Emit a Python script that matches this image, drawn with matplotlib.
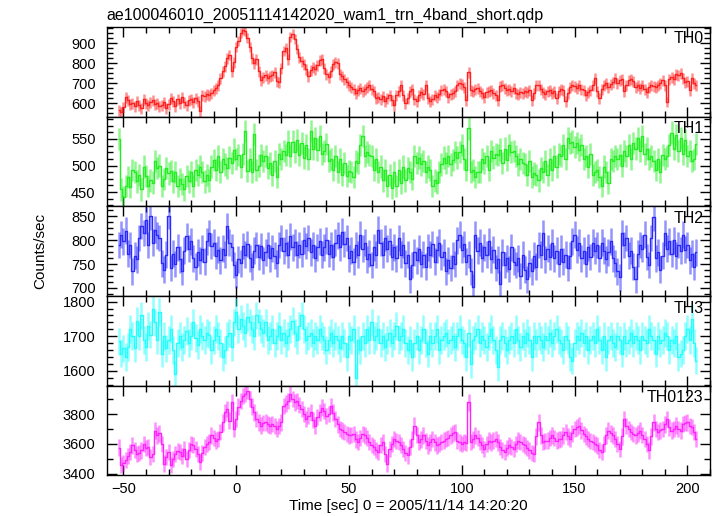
import numpy as np
import matplotlib
matplotlib.use("Agg")
import matplotlib.pyplot as plt
from matplotlib.ticker import MultipleLocator

plt.rcParams['font.family'] = ['Liberation Sans', 'DejaVu Sans']

# bin centres [sec], 1 s bins
t_bins = np.arange(-52, 205)

th0 = [
    565, 555, 580, 630, 615, 595, 600, 585, 610, 590,
    575, 620, 600, 590, 605, 615, 595, 600, 585, 590,
    605, 575, 595, 625, 610, 585, 620, 600, 630, 605,
    590, 615, 620, 605, 625, 610, 560, 640, 635, 645,
    640, 650, 665, 675, 690, 725, 760, 785, 825, 840,
    760, 805, 880, 910, 950, 965, 960, 925, 880, 825,
    800, 820, 760, 715, 730, 740, 725, 735, 740, 755,
    710, 705, 775, 860, 875, 820, 930, 945, 920, 870,
    830, 810, 795, 770, 735, 765, 780, 770, 790, 815,
    820, 775, 745, 730, 760, 795, 805, 800, 745, 735,
    720, 705, 690, 680, 670, 650, 665, 675, 660, 670,
    680, 690, 670, 660, 625, 630, 620, 635, 610, 625,
    640, 615, 590, 640, 660, 690, 640, 600, 625, 660,
    670, 620, 610, 640, 655, 645, 690, 625, 610, 620,
    640, 630, 645, 665, 670, 660, 630, 645, 650, 660,
    690, 700, 695, 680, 615, 755, 665, 660, 670, 675,
    660, 650, 630, 655, 660, 665, 650, 640, 615, 685,
    690, 675, 665, 670, 660, 675, 650, 645, 655, 650,
    660, 655, 665, 615, 650, 690, 690, 670, 655, 645,
    660, 665, 650, 660, 625, 660, 670, 665, 610, 650,
    680, 690, 685, 675, 690, 670, 665, 640, 655, 665,
    690, 725, 660, 625, 670, 690, 700, 680, 695, 705,
    725, 700, 715, 720, 660, 690, 715, 720, 710, 680,
    690, 675, 690, 670, 655, 680, 690, 685, 680, 690,
    700, 715, 690, 608, 720, 730, 720, 745, 740, 750,
    725, 705, 710, 665, 725, 700, 690,
]

th1 = [
    550, 455, 440, 462, 478, 460, 492, 488, 470, 482,
    455, 498, 480, 462, 472, 468, 508, 495, 500, 462,
    475, 495, 485, 490, 470, 488, 462, 475, 465, 455,
    480, 470, 488, 462, 492, 482, 498, 488, 470, 482,
    472, 498, 510, 492, 518, 488, 512, 502, 495, 515,
    505, 530, 512, 520, 498, 522, 565, 490, 512, 488,
    560, 492, 500, 520, 508, 518, 496, 505, 482, 508,
    478, 522, 512, 528, 520, 545, 518, 545, 525, 548,
    520, 542, 515, 538, 512, 565, 532, 552, 530, 555,
    522, 528, 540, 508, 512, 492, 518, 488, 512, 482,
    505, 480, 490, 488, 478, 508, 505, 538, 556, 518,
    525, 520, 518, 492, 512, 488, 498, 472, 492, 462,
    482, 458, 488, 462, 492, 468, 498, 472, 495, 488,
    475, 518, 505, 515, 502, 508, 488, 498, 492, 462,
    472, 468, 488, 502, 515, 505, 518, 502, 510, 525,
    515, 525, 538, 512, 492, 570, 488, 492, 478, 488,
    488, 512, 505, 518, 492, 528, 515, 522, 520, 530,
    505, 532, 510, 538, 525, 528, 518, 502, 512, 505,
    502, 482, 508, 478, 485, 482, 472, 495, 488, 508,
    482, 512, 492, 518, 498, 522, 518, 538, 512, 552,
    542, 545, 535, 542, 530, 538, 512, 518, 498, 522,
    482, 488, 492, 478, 462, 498, 488, 468, 512, 508,
    518, 512, 520, 500, 528, 518, 538, 512, 542, 532,
    552, 528, 555, 522, 532, 512, 518, 508, 492, 512,
    488, 520, 512, 518, 538, 562, 532, 558, 528, 552,
    522, 548, 518, 528, 508, 512, 540,
]

th2 = [
    790, 812, 798, 820, 772, 790, 735, 768, 760, 805,
    830, 815, 842, 790, 850, 795, 822, 810, 805, 752,
    738, 770, 851, 742, 772, 750, 785, 760, 735, 778,
    808, 782, 798, 762, 745, 775, 758, 782, 755, 798,
    815, 788, 795, 768, 780, 758, 782, 770, 830, 795,
    785, 748, 728, 760, 752, 788, 770, 792, 762, 745,
    778, 790, 765, 788, 758, 775, 790, 762, 783, 768,
    752, 790, 805, 778, 795, 770, 808, 785, 796, 770,
    790, 772, 800, 788, 805, 775, 790, 762, 785, 798,
    770, 785,
    800, 772, 790, 765, 795, 810, 785, 818, 792, 805,
    762, 778, 755, 790, 770, 812, 782, 795, 760, 772,
    748, 785, 770, 822, 795, 770, 805, 782, 798, 765,
    785, 762, 805, 770, 790, 752, 770, 718, 748, 775,
    758, 782, 750, 770, 745, 785, 770, 792, 755, 780,
    795, 765, 775, 735, 758, 742, 768, 750, 800, 812,
    780, 792, 755, 770, 735, 702, 812, 778, 795, 762,
    785, 770, 798, 760, 780, 742, 760, 708, 775, 748,
    762, 740, 785, 755, 748, 762, 725, 770, 738, 718,
    752, 735, 768, 745, 790, 770, 815, 760, 782, 765,
    795, 762, 778, 750, 782, 755, 770, 742, 768, 798,
    812, 780, 795, 762, 778, 750, 785, 765, 795, 778,
    790, 762, 795, 778, 760, 775, 798, 762, 752, 735,
    722, 815, 790, 805, 768, 778, 745, 718, 772, 790,
    782, 812, 765, 748, 805, 848, 762, 775, 738, 768,
    815, 782, 798, 772, 800, 768, 790, 778, 812, 780,
    790, 758, 772, 745, 775,
]

th3 = [
    1685, 1650, 1665, 1640, 1670, 1720, 1700, 1665, 1745, 1700,
    1760, 1690, 1670, 1730, 1705, 1780, 1740, 1690, 1770, 1650,
    1700, 1665, 1690, 1720, 1660, 1590, 1680, 1700, 1670, 1690,
    1715, 1680, 1700, 1740, 1695, 1675, 1720, 1700, 1690, 1710,
    1705, 1660, 1690, 1720, 1700, 1680, 1640, 1660, 1700, 1710,
    1670, 1740, 1770, 1720, 1750, 1730, 1710, 1755, 1740, 1720,
    1700, 1760, 1740, 1720, 1710, 1740, 1690, 1700, 1720, 1680,
    1700, 1730, 1690, 1710, 1680, 1700, 1720, 1745, 1710, 1690,
    1730, 1760, 1720, 1690, 1700, 1710, 1680, 1700, 1690, 1720,
    1700, 1690, 1660, 1690, 1710, 1680, 1700, 1690, 1665, 1700,
    1680, 1640, 1700, 1690, 1720, 1580, 1690, 1660, 1700, 1680,
    1720, 1690, 1740, 1690, 1700, 1720, 1680, 1700, 1670, 1690,
    1710, 1680, 1700, 1730, 1690, 1700, 1720, 1680, 1660, 1690,
    1640, 1680, 1700, 1660, 1690, 1720, 1680, 1650, 1700, 1680,
    1700, 1720, 1660, 1690, 1700, 1710, 1680, 1690, 1700, 1670,
    1700, 1720, 1690, 1680, 1640, 1710, 1620, 1690, 1700, 1720,
    1680, 1700, 1690, 1670, 1700, 1720, 1690, 1660, 1610, 1690,
    1700, 1680, 1660, 1690, 1700, 1680, 1720, 1690, 1670, 1700,
    1680, 1710, 1690, 1640, 1700, 1680, 1700, 1690, 1670, 1700,
    1690, 1710, 1680, 1700, 1720, 1690, 1680, 1660, 1700, 1690,
    1640, 1630, 1680, 1700, 1690, 1710, 1680, 1700, 1660, 1690,
    1700, 1680, 1720, 1690, 1660, 1700, 1640, 1690, 1700, 1680,
    1670, 1700, 1690, 1650, 1700, 1680, 1690, 1710, 1680, 1700,
    1690, 1660, 1700, 1690, 1680, 1720, 1700, 1690, 1650, 1700,
    1680, 1690, 1710, 1700, 1660, 1690, 1680, 1700, 1640, 1650,
    1660, 1700, 1720, 1690, 1750, 1680, 1630,
]

th0123 = [
    3575, 3456, 3470, 3490, 3520, 3545, 3589, 3560, 3530, 3540,
    3556, 3600, 3570, 3578, 3511, 3530, 3689, 3656, 3670, 3600,
    3467, 3510, 3544, 3456, 3500, 3533, 3550, 3544, 3520, 3567,
    3500, 3560, 3600, 3590, 3567, 3530, 3478, 3540, 3578, 3600,
    3611, 3656, 3640, 3622, 3633, 3680, 3744, 3811, 3833, 3756,
    3878, 3700, 3767, 3850, 3889, 3922, 3933, 3955, 3900, 3850,
    3811, 3767, 3744, 3722, 3740, 3744, 3730, 3722, 3733, 3720,
    3700, 3720, 3744, 3855, 3870, 3889, 3933, 3900, 3878, 3889,
    3860, 3833, 3800, 3767, 3790, 3811, 3760, 3722, 3780, 3811,
    3844, 3820, 3789, 3800, 3855, 3810, 3767, 3730, 3700, 3690,
    3678, 3665, 3656, 3660, 3667, 3630, 3611, 3640, 3667, 3656,
    3640, 3611, 3590, 3578, 3560, 3544, 3590, 3611, 3530, 3467,
    3567, 3600, 3633, 3620, 3611, 3590, 3567, 3540, 3522, 3580,
    3633, 3722, 3660, 3611, 3630, 3656, 3620, 3589, 3610, 3633,
    3610, 3589, 3600, 3611, 3622, 3633, 3640, 3656, 3670, 3678,
    3622, 3610, 3600, 3611, 3605, 3878, 3611, 3630, 3656, 3640,
    3611, 3590, 3567, 3600, 3622, 3610, 3622, 3633, 3610, 3578,
    3560, 3544, 3570, 3589, 3578, 3567, 3600, 3622, 3611, 3600,
    3589, 3570, 3556, 3540, 3533, 3650, 3744, 3656, 3611, 3620,
    3622, 3640, 3656, 3640, 3622, 3630, 3633, 3656, 3678, 3650,
    3633, 3670, 3700, 3710, 3722, 3690, 3667, 3650, 3633, 3620,
    3611, 3600, 3589, 3560, 3544, 3600, 3656, 3689, 3670, 3656,
    3633, 3600, 3567, 3650, 3767, 3720, 3700, 3680, 3667, 3656,
    3670, 3689, 3660, 3633, 3600, 3556, 3650, 3744, 3700, 3678,
    3690, 3700, 3730, 3767, 3710, 3689, 3700, 3722, 3700, 3689,
    3733, 3740, 3744, 3720, 3711, 3680, 3633,
]

band_names = ["TH0", "TH1", "TH2", "TH3", "TH0123"]
band_rates = [th0, th1, th2, th3, th0123]
band_errs = [26, 21, 28, 40, 55]   # typical 1-sigma error per bin
band_colors = ["#ff2020", "#22ee22", "#2a2aff", "#22ffff", "#ff22ff"]
y_limits = [(534, 981), (423, 592), (683, 871), (1557, 1816), (3387, 3990)]
y_major = [100, 50, 50, 100, 200]
y_minor = [25, 12.5, 12.5, 20, 100]

fig, axes = plt.subplots(5, 1, sharex=True, figsize=(7.17, 5.16), dpi=100,
                         gridspec_kw={'hspace': 0})
fig.subplots_adjust(left=0.1488, right=0.9902, top=0.9477, bottom=0.0785)

for i, ax in enumerate(axes):
    rate = np.array(band_rates[i], dtype=float)
    col = band_colors[i]
    # error bars drawn lighter, the binned rate as a solid step line
    ax.errorbar(t_bins, rate, yerr=band_errs[i], fmt='none', ecolor=col,
                elinewidth=1.8, alpha=0.5, capsize=0)
    ax.plot(t_bins, rate, drawstyle='steps-mid', color=col, lw=1.0)
    ax.set_ylim(*y_limits[i])
    ax.yaxis.set_major_locator(MultipleLocator(y_major[i]))
    ax.yaxis.set_minor_locator(MultipleLocator(y_minor[i]))
    ax.xaxis.set_major_locator(MultipleLocator(50))
    ax.xaxis.set_minor_locator(MultipleLocator(10))
    ax.tick_params(which='both', direction='in', top=True, right=True,
                   labelsize=10.5, width=1)
    ax.tick_params(which='major', length=7)
    ax.tick_params(which='minor', length=4)
    ax.tick_params(axis='y', pad=8)
    ax.tick_params(axis='x', pad=5)
    for s in ax.spines.values():
        s.set_linewidth(1)
    ax.text(0.989, 0.95, band_names[i], transform=ax.transAxes,
            ha='right', va='top', fontsize=11.5)

axes[-1].set_xlim(-57.4, 210)
axes[-1].set_xlabel("Time [sec] 0 = 2005/11/14 14:20:20", fontsize=11, labelpad=2)
fig.text(0.056, 0.513, "Counts/sec", rotation=90, ha='center', va='center',
         fontsize=11)
fig.text(0.1488, 0.985, "ae100046010_20051114142020_wam1_trn_4band_short.qdp",
         ha='left', va='top', fontsize=11.5)

fig.savefig("out.png", dpi=100)
